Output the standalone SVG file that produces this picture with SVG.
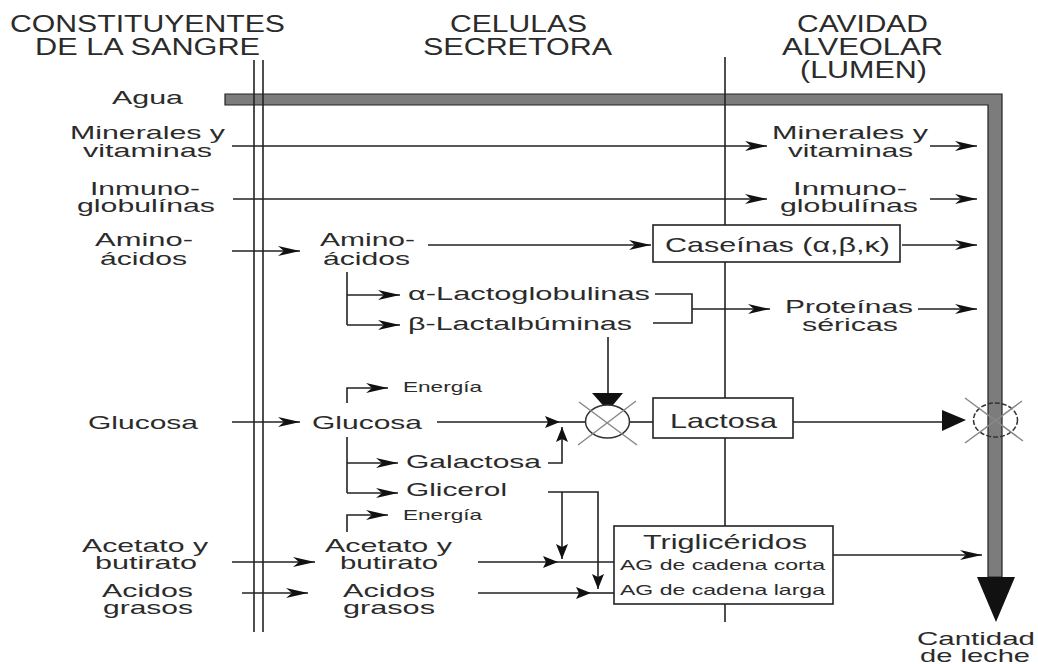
<svg xmlns="http://www.w3.org/2000/svg" width="1038" height="664" viewBox="0 0 1038 664">
<style>
text{font-family:"Liberation Sans",Arial,sans-serif;fill:#2b2b2b;}
.h{font-size:23px;}
.t{font-size:19px;}
.b{font-size:21px;}
.s{font-size:15px;}
.ln{stroke:#222;stroke-width:1.6;fill:none;}
.gx{stroke:#888;stroke-width:1.5;fill:none;}
.box{fill:#fff;stroke:#222;stroke-width:1.6;}
</style>
<defs>
<marker id="ah" markerUnits="userSpaceOnUse" markerWidth="22" markerHeight="11" refX="22" refY="5.5" orient="auto" viewBox="0 0 22 11"><path d="M0,0.5 L22,5.5 L0,10.5 L6,5.5 Z" fill="#111"/></marker>
<marker id="as" markerUnits="userSpaceOnUse" markerWidth="15" markerHeight="12" refX="15" refY="6" orient="auto" viewBox="0 0 15 12"><path d="M0,0 L15,6 L0,12 L3,6 Z" fill="#111"/></marker>
</defs>
<rect width="1038" height="664" fill="#fff"/>

<g id="headers">
<text class="h" x="10" y="32" textLength="275" lengthAdjust="spacingAndGlyphs">CONSTITUYENTES</text>
<text class="h" x="35" y="55" textLength="225" lengthAdjust="spacingAndGlyphs">DE LA SANGRE</text>
<text class="h" x="450" y="32" textLength="137" lengthAdjust="spacingAndGlyphs">CELULAS</text>
<text class="h" x="423" y="55" textLength="189" lengthAdjust="spacingAndGlyphs">SECRETORA</text>
<text class="h" x="797" y="32" textLength="131" lengthAdjust="spacingAndGlyphs">CAVIDAD</text>
<text class="h" x="782" y="55" textLength="161" lengthAdjust="spacingAndGlyphs">ALVEOLAR</text>
<text class="h" x="800" y="78" textLength="127" lengthAdjust="spacingAndGlyphs">(LUMEN)</text>
</g>

<g id="agua-bar">
<path d="M225,94 H1002 V577 H988 V105 H225 Z" fill="#7c7c7c" stroke="#222" stroke-width="1.2"/>
<polygon points="977,577 1015,577 996,622" fill="#111"/>
</g>

<g id="membranes">
<line class="ln" x1="254" y1="60" x2="254" y2="632"/>
<line class="ln" x1="263" y1="60" x2="263" y2="632"/>
<line class="ln" x1="725" y1="57" x2="725" y2="622"/>
</g>

<g id="connectors">
<path class="ln" d="M232,146 H767" marker-end="url(#ah)"/>
<path class="ln" d="M930,146 H977" marker-end="url(#ah)"/>
<path class="ln" d="M233,199 H767" marker-end="url(#ah)"/>
<path class="ln" d="M930,199 H977" marker-end="url(#ah)"/>
<path class="ln" d="M232,251 H300" marker-end="url(#ah)"/>
<path class="ln" d="M428,245 H651" marker-end="url(#ah)"/>
<path class="ln" d="M902,245 H977" marker-end="url(#ah)"/>
<path class="ln" d="M347,272 V325"/>
<path class="ln" d="M347,295 H400" marker-end="url(#ah)"/>
<path class="ln" d="M347,325 H400" marker-end="url(#ah)"/>
<path class="ln" d="M655,294 H692 V323 H653"/>
<path class="ln" d="M692,309 H770" marker-end="url(#ah)"/>
<path class="ln" d="M918,309 H977" marker-end="url(#ah)"/>
<path class="ln" d="M608,337 V394"/>
<polygon points="592,393 623,393 608,411" fill="#111"/>
<path class="ln" d="M347,403 V388 H388" marker-end="url(#ah)"/>
<path class="ln" d="M232,422 H300" marker-end="url(#ah)"/>
<path class="ln" d="M437,422 H560" marker-end="url(#as)"/>
<path class="ln" d="M560,422 H586"/>
<path class="ln" d="M548,463 H562 V427" marker-end="url(#as)"/>
<path class="ln" d="M630,422 H653"/>
<path class="ln" d="M793,422 H945"/>
<polygon points="942,410 966,420 942,431" fill="#111"/>
<path class="ln" d="M347,437 V493"/>
<path class="ln" d="M347,463 H398" marker-end="url(#ah)"/>
<path class="ln" d="M347,493 H398" marker-end="url(#ah)"/>
<path class="ln" d="M347,532 V515 H388" marker-end="url(#ah)"/>
<path class="ln" d="M548,492 H598 V589" marker-end="url(#as)"/>
<path class="ln" d="M562,492 V559" marker-end="url(#as)"/>
<path class="ln" d="M232,562 H315" marker-end="url(#ah)"/>
<path class="ln" d="M478,562 H558" marker-end="url(#as)"/>
<path class="ln" d="M558,562 H615"/>
<path class="ln" d="M242,593 H308" marker-end="url(#ah)"/>
<path class="ln" d="M478,593 H591" marker-end="url(#as)"/>
<path class="ln" d="M591,593 H615"/>
<path class="ln" d="M833,555 H982" marker-end="url(#ah)"/>
</g>

<g id="mixer-lactosa">
<ellipse cx="607.5" cy="421.5" rx="22" ry="16.5" fill="#fff" stroke="#333" stroke-width="1.5"/>
<line class="gx" x1="579" y1="402" x2="637" y2="445"/>
<line class="gx" x1="636" y1="401" x2="578" y2="445"/>
</g>

<g id="mixer-leche">
<ellipse cx="995.5" cy="420" rx="22" ry="17" fill="none" stroke="#333" stroke-width="1.5" stroke-dasharray="5 2"/>
<line class="gx" x1="965" y1="398" x2="1023" y2="441"/>
<line class="gx" x1="1022" y1="401" x2="965" y2="443"/>
</g>

<g id="n-agua"><text class="t" x="112" y="104" textLength="71" lengthAdjust="spacingAndGlyphs">Agua</text></g>
<g id="n-minerales-sangre">
<text class="t" x="70" y="139" textLength="155" lengthAdjust="spacingAndGlyphs">Minerales y</text>
<text class="t" x="83" y="157" textLength="129" lengthAdjust="spacingAndGlyphs">vitaminas</text>
</g>
<g id="n-minerales-lumen">
<text class="t" x="772" y="139" textLength="156" lengthAdjust="spacingAndGlyphs">Minerales y</text>
<text class="t" x="788" y="157" textLength="125" lengthAdjust="spacingAndGlyphs">vitaminas</text>
</g>
<g id="n-inmuno-sangre">
<text class="t" x="90" y="195" textLength="110" lengthAdjust="spacingAndGlyphs">Inmuno-</text>
<text class="t" x="77" y="212" textLength="138" lengthAdjust="spacingAndGlyphs">globulínas</text>
</g>
<g id="n-inmuno-lumen">
<text class="t" x="793" y="195" textLength="114" lengthAdjust="spacingAndGlyphs">Inmuno-</text>
<text class="t" x="780" y="212" textLength="138" lengthAdjust="spacingAndGlyphs">globulínas</text>
</g>
<g id="n-amino-sangre">
<text class="t" x="95" y="246" textLength="98" lengthAdjust="spacingAndGlyphs">Amino-</text>
<text class="t" x="100" y="265" textLength="87" lengthAdjust="spacingAndGlyphs">ácidos</text>
</g>
<g id="n-amino-celula">
<text class="t" x="320" y="246" textLength="95" lengthAdjust="spacingAndGlyphs">Amino-</text>
<text class="t" x="323" y="265" textLength="87" lengthAdjust="spacingAndGlyphs">ácidos</text>
</g>
<g id="n-caseinas">
<rect class="box" x="653" y="225" width="247" height="37"/>
<text class="b" x="665" y="252" textLength="225" lengthAdjust="spacingAndGlyphs">Caseínas (α,β,κ)</text>
</g>
<g id="n-lactoglobulinas"><text class="t" x="408" y="300" textLength="242" lengthAdjust="spacingAndGlyphs">α-Lactoglobulinas</text></g>
<g id="n-lactalbuminas"><text class="t" x="408" y="330" textLength="224" lengthAdjust="spacingAndGlyphs">β-Lactalbúminas</text></g>
<g id="n-proteinas">
<text class="t" x="785" y="313" textLength="128" lengthAdjust="spacingAndGlyphs">Proteínas</text>
<text class="t" x="802" y="331" textLength="96" lengthAdjust="spacingAndGlyphs">séricas</text>
</g>
<g id="n-energia-1"><text class="s" x="403" y="392" textLength="79" lengthAdjust="spacingAndGlyphs">Energía</text></g>
<g id="n-glucosa-sangre"><text class="t" x="88" y="429" textLength="110" lengthAdjust="spacingAndGlyphs">Glucosa</text></g>
<g id="n-glucosa-celula"><text class="t" x="312" y="429" textLength="110" lengthAdjust="spacingAndGlyphs">Glucosa</text></g>
<g id="n-lactosa">
<rect class="box" x="653" y="398" width="140" height="40"/>
<text class="b" x="670" y="428" textLength="107" lengthAdjust="spacingAndGlyphs">Lactosa</text>
</g>
<g id="n-galactosa"><text class="t" x="406" y="468" textLength="135" lengthAdjust="spacingAndGlyphs">Galactosa</text></g>
<g id="n-glicerol"><text class="t" x="406" y="496" textLength="101" lengthAdjust="spacingAndGlyphs">Glicerol</text></g>
<g id="n-energia-2"><text class="s" x="403" y="520" textLength="79" lengthAdjust="spacingAndGlyphs">Energía</text></g>
<g id="n-acetato-sangre">
<text class="t" x="82" y="552" textLength="126" lengthAdjust="spacingAndGlyphs">Acetato y</text>
<text class="t" x="95" y="569" textLength="102" lengthAdjust="spacingAndGlyphs">butirato</text>
</g>
<g id="n-acetato-celula">
<text class="t" x="325" y="552" textLength="127" lengthAdjust="spacingAndGlyphs">Acetato y</text>
<text class="t" x="340" y="569" textLength="98" lengthAdjust="spacingAndGlyphs">butirato</text>
</g>
<g id="n-acidos-sangre">
<text class="t" x="102" y="597" textLength="91" lengthAdjust="spacingAndGlyphs">Acidos</text>
<text class="t" x="103" y="614" textLength="90" lengthAdjust="spacingAndGlyphs">grasos</text>
</g>
<g id="n-acidos-celula">
<text class="t" x="343" y="597" textLength="92" lengthAdjust="spacingAndGlyphs">Acidos</text>
<text class="t" x="343" y="614" textLength="92" lengthAdjust="spacingAndGlyphs">grasos</text>
</g>
<g id="n-trigliceridos">
<rect class="box" x="614" y="526" width="219" height="78"/>
<text class="b" x="643" y="549" textLength="164" lengthAdjust="spacingAndGlyphs">Triglicéridos</text>
<text class="s" x="620" y="570" textLength="205" lengthAdjust="spacingAndGlyphs">AG de cadena corta</text>
<text class="s" x="620" y="595" textLength="205" lengthAdjust="spacingAndGlyphs">AG de cadena larga</text>
</g>
<g id="n-cantidad">
<text class="t" x="917" y="645" textLength="118" lengthAdjust="spacingAndGlyphs">Cantidad</text>
<text class="t" x="920" y="662" textLength="110" lengthAdjust="spacingAndGlyphs">de leche</text>
</g>
</svg>
